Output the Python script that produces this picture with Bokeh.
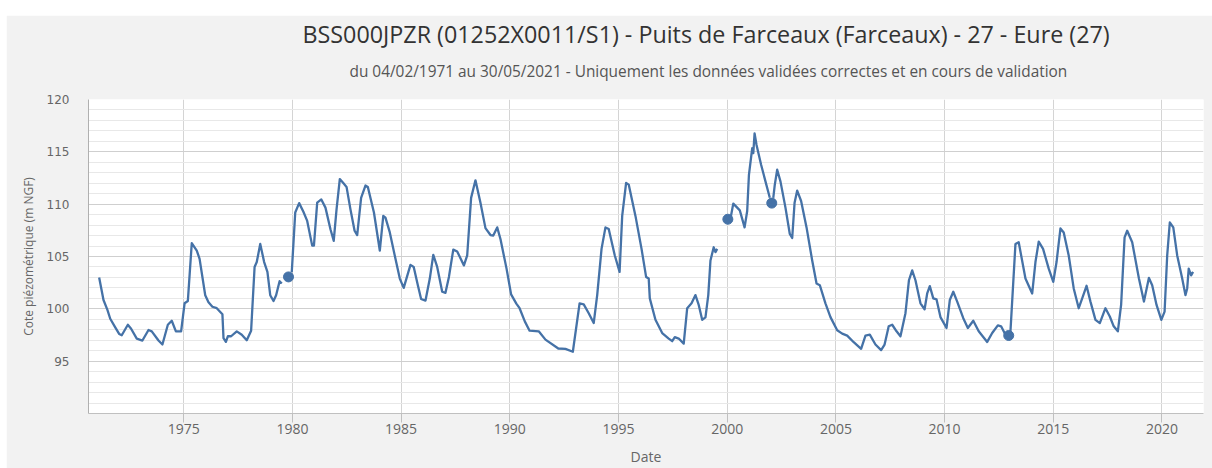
from bokeh.plotting import figure
from bokeh.models import FixedTicker, Title, Spacer
from bokeh.layouts import column, row
from bokeh.embed import file_html
from bokeh.resources import INLINE

# ---------------- data (decimal years, m NGF) ----------------
dates_1971_1979 = [1971.11, 1971.31, 1971.49, 1971.62, 1971.85, 1972.03, 1972.15, 1972.43, 1972.58,
                   1972.84, 1973.10, 1973.38, 1973.53, 1973.84, 1974.02, 1974.27, 1974.45, 1974.64,
                   1974.88, 1975.04, 1975.19, 1975.37, 1975.60, 1975.73, 1975.99, 1976.14, 1976.32,
                   1976.52, 1976.78, 1976.83, 1976.94, 1977.03, 1977.18, 1977.44, 1977.67, 1977.90,
                   1978.10, 1978.26, 1978.36, 1978.52, 1978.70, 1978.85, 1978.98, 1979.13, 1979.25,
                   1979.41, 1979.51]
levels_1971_1979 = [103.0, 100.84, 99.9, 99.05, 98.23, 97.6, 97.48, 98.48, 98.1,
                    97.16, 96.97, 97.98, 97.85, 96.97, 96.59, 98.48, 98.86, 97.85,
                    97.85, 100.53, 100.75, 106.27, 105.57, 104.78, 101.3, 100.62, 100.2,
                    100.06, 99.49, 97.2, 96.84, 97.38, 97.38, 97.85, 97.53, 97.0,
                    97.91, 104.0, 104.47, 106.2, 104.47, 103.53, 101.3, 100.75, 101.3,
                    102.64, 102.42]

dates_1980_1999 = [1979.97, 1980.13, 1980.31, 1980.50, 1980.68, 1980.91, 1980.99, 1981.14, 1981.33,
                   1981.52, 1981.75, 1981.90, 1982.03, 1982.18, 1982.36, 1982.49, 1982.67, 1982.86,
                   1982.98, 1983.16, 1983.36, 1983.47, 1983.75, 1984.02, 1984.18, 1984.28, 1984.48,
                   1984.74, 1984.94, 1985.12, 1985.43, 1985.58, 1985.77, 1985.92, 1986.12, 1986.32,
                   1986.48, 1986.66, 1986.89, 1987.04, 1987.20, 1987.40, 1987.58, 1987.89, 1988.04,
                   1988.22, 1988.42, 1988.65, 1988.88, 1989.11, 1989.24, 1989.42, 1989.57, 1989.85,
                   1990.06, 1990.30, 1990.45, 1990.69, 1990.91, 1991.33, 1991.64, 1992.23, 1992.56,
                   1992.90, 1993.21, 1993.40, 1993.63, 1993.86, 1994.02, 1994.22, 1994.40, 1994.55,
                   1994.83, 1995.05, 1995.17, 1995.35, 1995.47, 1995.78, 1996.06, 1996.27, 1996.39,
                   1996.44, 1996.70, 1997.01, 1997.31, 1997.47, 1997.59, 1997.77, 1998.00, 1998.16,
                   1998.36, 1998.54, 1998.69, 1998.85, 1999.00, 1999.13, 1999.23, 1999.38, 1999.46,
                   1999.54]
levels_1980_1999 = [103.5, 109.2, 110.1, 109.3, 108.4, 106.04, 106.04, 110.14, 110.45,
                    109.67, 107.6, 106.5, 109.5, 112.4, 111.97, 111.65, 109.5, 107.46,
                    107.05, 110.6, 111.78, 111.65, 109.2, 105.57, 108.88, 108.72, 107.3,
                    104.78, 102.89, 102.0, 104.2, 104.0, 102.26, 100.94, 100.78, 102.89,
                    105.16, 104.0, 101.63, 101.53, 103.05, 105.66, 105.48, 104.15, 105.1,
                    110.6, 112.28, 110.14, 107.71, 107.05, 107.0, 107.78, 106.67, 103.84,
                    101.38, 100.5, 100.06, 98.8, 97.91, 97.85, 97.06, 96.21, 96.18,
                    95.9, 100.53, 100.43, 99.58, 98.64, 101.31, 105.73, 107.78, 107.62,
                    105.1, 103.53, 108.88, 112.03, 111.87, 108.88, 105.73, 103.05, 102.89,
                    101.0, 98.95, 97.69, 97.16, 96.91, 97.29, 97.16, 96.68, 100.06,
                    100.53, 101.31, 100.37, 98.95, 99.18, 101.31, 104.62, 105.88, 105.42,
                    105.73]

dates_2000_2001 = [2000.15, 2000.28, 2000.46, 2000.58, 2000.80, 2000.92, 2001.00, 2001.15, 2001.20,
                   2001.26, 2001.35, 2001.56, 2001.76, 2001.96]
levels_2000_2001 = [108.6, 110.05, 109.67, 109.41, 107.78, 109.35, 112.8, 115.34, 114.87,
                    116.76, 115.65, 113.76, 112.18, 110.61]

dates_2002_2012 = [2002.12, 2002.19, 2002.30, 2002.45, 2002.68, 2002.88, 2002.99, 2003.10, 2003.22,
                   2003.40, 2003.65, 2003.91, 2004.11, 2004.26, 2004.52, 2004.75, 2005.06, 2005.29,
                   2005.52, 2005.82, 2006.16, 2006.36, 2006.56, 2006.82, 2007.08, 2007.24, 2007.43,
                   2007.59, 2007.79, 2007.97, 2008.20, 2008.36, 2008.51, 2008.66, 2008.89, 2009.08,
                   2009.20, 2009.32, 2009.48, 2009.63, 2009.81, 2010.09, 2010.24, 2010.40, 2010.58,
                   2010.86, 2011.07, 2011.32, 2011.57, 2011.96, 2012.19, 2012.45, 2012.60, 2012.80]
levels_2002_2012 = [110.6, 111.87, 113.29, 112.18, 109.67, 107.15, 106.77, 110.14, 111.3,
                    110.3, 107.78, 104.62, 102.42, 102.26, 100.53, 99.21, 97.95, 97.63,
                    97.44, 96.81, 96.18, 97.44, 97.53, 96.59, 96.06, 96.59, 98.33,
                    98.48, 97.85, 97.38, 99.58, 102.73, 103.68, 102.73, 100.53, 99.96,
                    101.47, 102.17, 101.0, 100.9, 99.21, 98.17, 100.84, 101.63, 100.69,
                    99.11, 98.17, 98.86, 97.85, 96.84, 97.69, 98.42, 98.33, 97.53]

dates_2013_2021 = [2013.03, 2013.26, 2013.41, 2013.72, 2014.03, 2014.18, 2014.33, 2014.53, 2014.79,
                   2015.00, 2015.15, 2015.33, 2015.48, 2015.71, 2015.94, 2016.17, 2016.33, 2016.53,
                   2016.71, 2016.94, 2017.14, 2017.40, 2017.60, 2017.78, 2017.97, 2018.12, 2018.28,
                   2018.40, 2018.63, 2018.94, 2019.17, 2019.40, 2019.55, 2019.75, 2019.97, 2020.12,
                   2020.24, 2020.36, 2020.52, 2020.70, 2020.93, 2021.08, 2021.16, 2021.23, 2021.34,
                   2021.43]
levels_2013_2021 = [97.85, 106.2, 106.36, 102.89, 101.47, 104.47, 106.42, 105.73, 103.84,
                    102.58, 104.47, 107.68, 107.3, 105.1, 101.95, 100.06, 101.0, 102.2,
                    100.69, 98.95, 98.64, 100.06, 99.27, 98.33, 97.85, 100.37, 106.83,
                    107.46, 106.36, 102.89, 100.69, 102.96, 102.26, 100.37, 98.95, 99.74,
                    105.1, 108.25, 107.78, 105.1, 102.89, 101.31, 101.95, 103.84, 103.2,
                    103.53]

isolated_dates = [1979.82, 2000.03, 2002.05, 2012.95]
isolated_levels = [103.05, 108.56, 110.1, 97.45]

year_ticks = [1975, 1980, 1985, 1990, 1995, 2000, 2005, 2010, 2015, 2020]
level_ticks = [95, 100, 105, 110, 115, 120]
level_minor_ticks = [91, 92, 93, 94, 96, 97, 98, 99, 101, 102, 103, 104, 106, 107, 108, 109,
                     111, 112, 113, 114, 116, 117, 118, 119]

title_text = "BSS000JPZR (01252X0011/S1) - Puits de Farceaux (Farceaux) - 27 - Eure (27)"
subtitle_text = ("du 04/02/1971 au 30/05/2021 - Uniquement les données validées correctes "
                 "et en cours de validation")

# ---------------- figure ----------------
LINE = "#4572A7"
p = figure(width=1206, height=453, x_range=(1970.62, 2021.91), y_range=(90, 120),
           output_backend="svg", toolbar_location=None,
           min_border_left=82, min_border_right=9, min_border_top=84, min_border_bottom=52,
           background_fill_color="white", border_fill_color="#f2f2f2")
p.outline_line_color = None

for xs, ys in [(dates_1971_1979, levels_1971_1979), (dates_1980_1999, levels_1980_1999),
               (dates_2000_2001, levels_2000_2001), (dates_2002_2012, levels_2002_2012),
               (dates_2013_2021, levels_2013_2021)]:
    p.line(xs, ys, line_color=LINE, line_width=2.3, line_join="round")
p.scatter(isolated_dates, isolated_levels, size=10, color=LINE)

# axes
p.xaxis.ticker = FixedTicker(ticks=year_ticks)
p.xaxis.axis_label = "Date"
p.xaxis.axis_label_text_font = "Open Sans"
p.xaxis.axis_label_text_font_size = "14px"
p.xaxis.axis_label_text_font_style = "normal"
p.xaxis.axis_label_text_color = "#666666"
p.xaxis.axis_label_standoff = 10
p.xaxis.major_label_text_font = "Open Sans"
p.xaxis.major_label_text_font_size = "14px"
p.xaxis.major_label_text_color = "#666666"
p.xaxis.major_label_standoff = 1
p.xaxis.major_tick_in = 0
p.xaxis.major_tick_out = 9
p.xaxis.major_tick_line_color = "#c0c0c0"
p.xaxis.minor_tick_line_color = None
p.xaxis.axis_line_color = "#c0c0c0"

p.yaxis.ticker = FixedTicker(ticks=level_ticks, minor_ticks=level_minor_ticks)
p.yaxis.axis_label = "Cote piézométrique (m NGF)"
p.yaxis.axis_label_text_font = "Open Sans"
p.yaxis.axis_label_text_font_size = "12px"
p.yaxis.axis_label_text_font_style = "normal"
p.yaxis.axis_label_text_color = "#666666"
p.yaxis.axis_label_standoff = 7
p.yaxis.major_label_text_font = "DejaVu Sans"
p.yaxis.major_label_text_font_size = "12px"
p.yaxis.major_label_text_color = "#666666"
p.yaxis.major_label_standoff = 13
p.yaxis.major_tick_line_color = None
p.yaxis.minor_tick_line_color = None
p.yaxis.axis_line_color = "#b0b0b0"

# grids
p.xgrid.ticker = FixedTicker(ticks=year_ticks)
p.xgrid.grid_line_color = "#d4d4d4"
p.ygrid.grid_line_color = "#cfcfcf"
p.ygrid.minor_grid_line_color = "#e8e8e8"

# titles, stacked from the plot upwards: gap, subtitle, title
p.add_layout(Title(text=" ", text_font_size="1px", standoff=6), "above")
p.add_layout(Title(text=subtitle_text, align="left", offset=261, text_font="Open Sans",
                   text_font_size="15.4px", text_font_style="normal", text_color="#555555",
                   standoff=18), "above")
p.add_layout(Title(text=title_text, align="left", offset=214, text_font="Open Sans",
                   text_font_size="23.3px", text_font_style="normal", text_color="#333333",
                   standoff=0), "above")

layout = column(Spacer(width=1212, height=15), row(Spacer(width=6, height=453), p))
open("out.html", "w").write(file_html(layout, INLINE))
